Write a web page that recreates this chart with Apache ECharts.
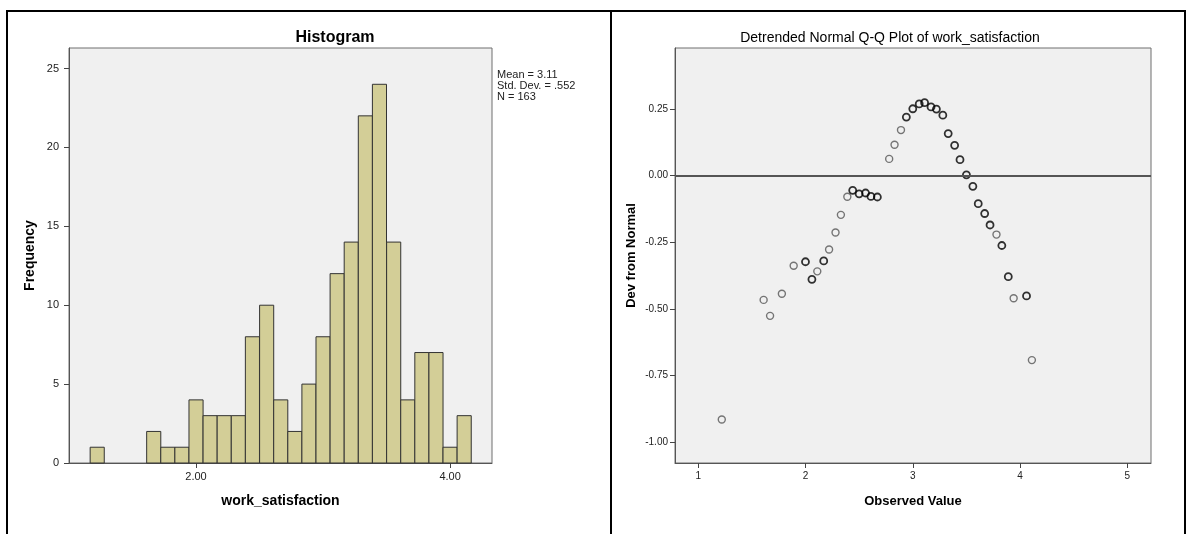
<!DOCTYPE html>
<html>
<head>
<meta charset="utf-8">
<script src="https://cdn.jsdelivr.net/npm/echarts@6/dist/echarts.min.js"></script>
<style>
  html, body { margin: 0; padding: 0; background: #fff; }
  #chartContainer { width: 1188px; height: 534px; }
</style>
</head>
<body>
<div id="chartContainer"></div>
<script>
// histogram: bin centres (width 1/9) and frequencies
var binCenters = [1.222, 1.333, 1.444, 1.556, 1.667, 1.778, 1.889, 2.000, 2.111, 2.222, 2.333, 2.444, 2.556, 2.667,
    2.778, 2.889, 3.000, 3.111, 3.222, 3.333, 3.444, 3.556, 3.667, 3.778, 3.889, 4.000, 4.111];
var binCounts = [1, 0, 0, 0, 2, 1, 1, 4, 3, 3, 3, 8, 10, 4, 2, 5, 8, 12, 14, 22, 24, 14, 4, 7, 7, 1, 3];
var binWidth = 0.1111;
var histXTicks = [2, 4];
var histYTicks = [0, 5, 10, 15, 20, 25];
var statsLines = ["Mean = 3.11", "Std. Dev. = .552", "N = 163"];

// detrended Q-Q: single points (grey) and tied points (darker)
var qqSingleX = [1.22, 1.61, 1.67, 1.78, 1.89, 2.11, 2.22, 2.28, 2.33, 2.39, 2.78, 2.83, 2.89, 3.78, 3.94, 4.11];
var qqSingleY = [-0.915, -0.466, -0.526, -0.443, -0.338, -0.359, -0.277, -0.213, -0.147, -0.079, 0.063, 0.116, 0.171, -0.221, -0.460, -0.692];
var qqTiedX = [2.00, 2.06, 2.17, 2.44, 2.50, 2.56, 2.61, 2.67, 2.94, 3.00, 3.06, 3.11, 3.17, 3.22, 3.28, 3.33,
    3.39, 3.44, 3.50, 3.56, 3.61, 3.67, 3.72, 3.83, 3.89, 4.06];
var qqTiedY = [-0.323, -0.389, -0.320, -0.055, -0.068, -0.065, -0.078, -0.080, 0.220, 0.251, 0.269, 0.274, 0.258, 0.250, 0.227, 0.158,
    0.114, 0.060, 0.003, -0.040, -0.105, -0.142, -0.185, -0.262, -0.379, -0.451];
var qqXTicks = [1, 2, 3, 4, 5];
var qqYTicks = [0.25, 0, -0.25, -0.5, -0.75, -1];

var fontF = "'Liberation Sans', Arial, sans-serif";

function pairs(xs, ys) {
    var out = [];
    for (var i = 0; i < xs.length; i++) {
        out.push([xs[i], ys[i]]);
    }
    return out;
}

var histData = [];
for (var i = 0; i < binCenters.length; i++) {
    histData.push([binCenters[i], binCounts[i]]);
}

var axisText = { color: "#222", fontFamily: fontF };

var dom = document.getElementById("chartContainer");
var myChart = echarts.init(dom);

var frame = { stroke: "#000", lineWidth: 2 };

var option = {
    animation: false,
    backgroundColor: "#fff",
    title: [{
        text: "Histogram",
        left: 330,
        top: 25,
        textAlign: "center",
        textStyle: { fontFamily: fontF, fontSize: 16, fontWeight: "bold", color: "#000" }
    }, {
        text: "Detrended Normal Q-Q Plot of work_satisfaction",
        left: 885,
        top: 26,
        textAlign: "center",
        textStyle: { fontFamily: fontF, fontSize: 14, fontWeight: "normal", color: "#000" }
    }],
    graphic: [
        { type: "line", shape: { x1: 7, y1: 11, x2: 1185, y2: 11 }, style: frame },
        { type: "line", shape: { x1: 7, y1: 10, x2: 7, y2: 534 }, style: frame },
        { type: "line", shape: { x1: 611, y1: 10, x2: 611, y2: 534 }, style: frame },
        { type: "line", shape: { x1: 1185, y1: 10, x2: 1185, y2: 534 }, style: frame },
        {
            type: "text",
            left: 497,
            top: 69,
            style: {
                text: statsLines.join("\n"),
                font: "11px " + fontF,
                lineHeight: 11,
                fill: "#222"
            }
        }
    ],
    grid: [{
        left: 69, top: 48, width: 423, height: 415,
        show: true, backgroundColor: "#f0f0f0", borderColor: "#6e6e6e", borderWidth: 1
    }, {
        left: 675, top: 48, width: 476, height: 415,
        show: true, backgroundColor: "#f0f0f0", borderColor: "#6e6e6e", borderWidth: 1
    }],
    xAxis: [{
        type: "value", gridIndex: 0, min: 1.0, max: 4.33,
        name: "work_satisfaction", nameLocation: "middle", nameGap: 31,
        nameTextStyle: { fontFamily: fontF, fontSize: 14, fontWeight: "bold", color: "#000" },
        axisLine: { show: true, onZero: false, lineStyle: { color: "#555", width: 1 } },
        axisTick: { show: true, length: 5, customValues: histXTicks, lineStyle: { color: "#444" } },
        axisLabel: Object.assign({ fontSize: 11, margin: 8, customValues: histXTicks,
            formatter: function (v) { return v.toFixed(2); } }, axisText),
        splitLine: { show: false }
    }, {
        type: "value", gridIndex: 1, min: 0.784, max: 5.22,
        name: "Observed Value", nameLocation: "middle", nameGap: 32,
        nameTextStyle: { fontFamily: fontF, fontSize: 13, fontWeight: "bold", color: "#000" },
        axisLine: { show: true, onZero: false, lineStyle: { color: "#555", width: 1 } },
        axisTick: { show: true, length: 5, customValues: qqXTicks, lineStyle: { color: "#444" } },
        axisLabel: Object.assign({ fontSize: 10, margin: 8, customValues: qqXTicks }, axisText),
        splitLine: { show: false }
    }],
    yAxis: [{
        type: "value", gridIndex: 0, min: 0, max: 26.3,
        name: "Frequency", nameLocation: "middle", nameGap: 32, nameRotate: 90,
        nameTextStyle: { fontFamily: fontF, fontSize: 14, fontWeight: "bold", color: "#000" },
        axisLine: { show: true, onZero: false, lineStyle: { color: "#555", width: 1 } },
        axisTick: { show: true, length: 5, customValues: histYTicks, lineStyle: { color: "#444" } },
        axisLabel: Object.assign({ fontSize: 11, margin: 10, customValues: histYTicks }, axisText),
        splitLine: { show: false }
    }, {
        type: "value", gridIndex: 1, min: -1.078, max: 0.479,
        name: "Dev from Normal", nameLocation: "middle", nameGap: 37, nameRotate: 90,
        nameTextStyle: { fontFamily: fontF, fontSize: 13, fontWeight: "bold", color: "#000" },
        axisLine: { show: true, onZero: false, lineStyle: { color: "#555", width: 1 } },
        axisTick: { show: true, length: 5, customValues: qqYTicks, lineStyle: { color: "#444" } },
        axisLabel: Object.assign({ fontSize: 10, margin: 7, customValues: qqYTicks,
            formatter: function (v) { return v.toFixed(2); } }, axisText),
        splitLine: { show: false }
    }],
    series: [{
        type: "custom",
        xAxisIndex: 0,
        yAxisIndex: 0,
        data: histData,
        encode: { x: 0, y: 1 },
        renderItem: function (params, api) {
            var c = api.value(0);
            var n = api.value(1);
            if (!n) {
                return null;
            }
            var p0 = api.coord([c - binWidth / 2, n]);
            var p1 = api.coord([c + binWidth / 2, 0]);
            return {
                type: "rect",
                shape: { x: p0[0], y: p0[1], width: p1[0] - p0[0], height: p1[1] - p0[1] },
                style: { fill: "#d3ce97", stroke: "#333", lineWidth: 1 }
            };
        }
    }, {
        type: "scatter",
        xAxisIndex: 1,
        yAxisIndex: 1,
        symbol: "circle",
        symbolSize: 7,
        data: pairs(qqSingleX, qqSingleY),
        itemStyle: { color: "rgba(0,0,0,0)", borderColor: "#555", borderWidth: 1.4 },
        markLine: {
            silent: true,
            symbol: "none",
            label: { show: false },
            lineStyle: { color: "#555", width: 2, type: "solid" },
            data: [{ yAxis: 0 }]
        }
    }, {
        type: "scatter",
        xAxisIndex: 1,
        yAxisIndex: 1,
        symbol: "circle",
        symbolSize: 7,
        data: pairs(qqTiedX, qqTiedY),
        itemStyle: { color: "rgba(0,0,0,0)", borderColor: "#000", borderWidth: 1.8 }
    }]
};

myChart.setOption(option, true);
window.onresize = myChart.resize;
</script>
</body>
</html>
